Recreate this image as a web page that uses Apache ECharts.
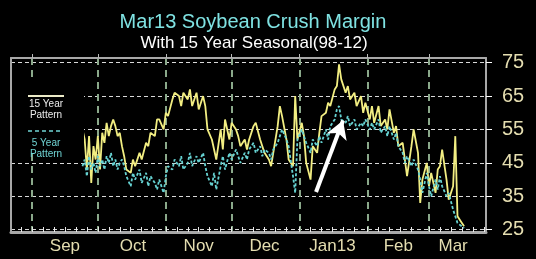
<!DOCTYPE html>
<html>
<head>
<meta charset="utf-8">
<script src="https://cdn.jsdelivr.net/npm/echarts@6/dist/echarts.min.js"></script>
<style>
html,body{margin:0;padding:0;background:#000;}
#chart{width:536px;height:259px;}
</style>
</head>
<body>
<div id="chart"></div>
<script>
// x values: days since 2012-09-01
const days = [23,24,25,26,27,28,29,30,31,32,33,34,35,36,37,38,39,40,41,42,
  43,45,46,47,49,50,52,53,54,56,57,58,60,61,62,64,65,67,68,69,71,72,73,75,76,78,79,80,82,83,84,86,87,88,90,
  91,93,94,95,97,98,99,101,102,104,105,106,108,109,110,112,113,114,116,117,119,120,121,123,124,125,127,128,130,131,132,134,135,136,138,139,
  140,141,143,144,145,147,148,150,151,152,154,155,156,158,159,161,162,163,165,166,167,169,170,171,173,174,176,177,178,180,181,182,184,185,186,187,189,190,192,193,194,196,197];
const pattern15 = [55,52,43,53,39,50,46,53,43,54,51,57,53,56,58,56,53,54,50,47,
  43,42,46,44,48,46,51,50,54,53,58,58,55,60,59,64,66,65,62,66,64,67,62,66,61,65,62,55,52,49,46,55,49,58,52,
  57,55,53,50,52,49,52,56,57,52,50,48,46,44,48,56,62,59,52,46,44,65,52,57,53,45,40,50,48,54,59,60,63,62,67,68,
  74.5,70,66,68,64,66,62,65,60,63,58,62,57,62,56,58,55,61,54,56,50,51,46,41,50,55,48,33,40,45,38,42,36,43,44,49,40,34,38,53,29,27,26];
const pattern5 = [44,46,41,47,43,45,42,47,44,46,43,47,45,48,44,46,43,45,46,44,
  41,38,42,40,43,39,42,38,41,39,37,40,36,41,44,43,46,44,47,43,45,48,44,47,45,48,44,41,38,42,37,44,47,43,48,
  46,49,47,45,48,46,49,51,48,50,47,49,48,46,49,51,53,55,52,50,41,36,52,55,53,51,48,52,50,53,51,55,52,56,58,61,
  62,58,57,59,56,58,55,57,56,58,55,57,55,58,54,56,53,56,52,54,50,48,45,47,44,46,43,40,36,42,38,35,40,37,41,38,35,36,31,29,27,26,25.5];
const monthStarts = [0,30,61,91,122,153,181];
const monthLabelDays = [15,46,76,106,137,167,192];
const monthLabels = ['Sep','Oct','Nov','Dec','Jan13','Feb','Mar'];
const smallTicks = [-5,0,5,10,15,20,25,30,35,40,45,50,55,61,66,71,76,81,86,91,96,101,106,111,116,122,127,132,137,142,147,153,158,163,168,173,181,186,191,196,201,206];
const yTicks = [25,35,45,55,65,75];
const arrowFrom = [129.5,36.3];
const arrowTo = [141.8,57.7];

const FONT = '"Liberation Sans", Arial, sans-serif';
const xMin = -9.6, xMax = 207;
const yMin = 24.3, yMax = 76.4;

const chart = echarts.init(document.getElementById('chart'), null, {renderer:'canvas'});
chart.setOption({
  backgroundColor:'#000',
  animation:false,
  title:[
    {text:'Mar13 Soybean Crush Margin', left:248, top:7, textAlign:'center',
     textStyle:{color:'#7fe2e2', fontSize:20, fontWeight:'normal', fontFamily:FONT}},
    {text:'With 15 Year Seasonal(98-12)', left:249, top:30, textAlign:'center',
     textStyle:{color:'#ffffff', fontSize:17, fontWeight:'normal', fontFamily:FONT}}
  ],
  grid:{left:11, right:50, top:58, bottom:27},
  xAxis:[
    {type:'value', min:xMin, max:xMax, position:'bottom',
     axisLine:{show:false, onZero:false}, axisTick:{show:false, customValues:monthStarts},
     axisLabel:{customValues:monthLabelDays, color:'#e4ddb0', fontSize:17, fontFamily:FONT, margin:6,
       formatter:v=>monthLabels[monthLabelDays.indexOf(v)]},
     splitLine:{show:true, lineStyle:{color:'#8aa88a', width:2, type:[7,5]}}},
    {type:'value', min:xMin, max:xMax, position:'bottom',
     axisLine:{show:true, onZero:false, lineStyle:{color:'#a8a8a8', width:3}},
     axisTick:{show:true, inside:true, length:5, customValues:smallTicks, lineStyle:{color:'#e8e8e8', width:1}},
     axisLabel:{show:false}, splitLine:{show:false}},
    {type:'value', min:xMin, max:xMax, position:'top',
     axisLine:{show:true, onZero:false, lineStyle:{color:'#a8a8a8', width:2}},
     axisTick:{show:true, length:4, customValues:monthStarts, lineStyle:{color:'#bbbbbb', width:1}},
     axisLabel:{show:false}, splitLine:{show:false}}
  ],
  yAxis:[
    {type:'value', min:yMin, max:yMax, position:'right',
     axisLine:{show:true, onZero:false, lineStyle:{color:'#a8a8a8', width:2}},
     axisTick:{show:true, length:6, customValues:yTicks, lineStyle:{color:'#ffffff', width:1}},
     axisLabel:{customValues:yTicks, color:'#e4ddb0', fontSize:20, fontFamily:FONT, margin:16},
     splitLine:{show:true, lineStyle:{color:'#d8d8d8', width:1, type:[4,3]}}},
    {type:'value', min:yMin, max:yMax, position:'left',
     axisLine:{show:true, onZero:false, lineStyle:{color:'#a8a8a8', width:2}},
     axisTick:{show:false}, axisLabel:{show:false}, splitLine:{show:false}}
  ],
  series:[
    {name:'15 Year Pattern', type:'line', xAxisIndex:0, yAxisIndex:0,
     data:days.map((d,i)=>[d,pattern15[i]]), showSymbol:false, symbol:'none',
     lineStyle:{color:'#f2ee82', width:1.8}, z:3},
    {name:'5 Year Pattern', type:'line', xAxisIndex:0, yAxisIndex:0,
     data:days.map((d,i)=>[d,pattern5[i]]), showSymbol:false, symbol:'none',
     lineStyle:{color:'#66d2d2', width:1.8, type:[3,2]}, z:4,
     markLine:{silent:true, symbol:['none','arrow'], symbolSize:[16,18],
       label:{show:false},
       lineStyle:{color:'#ffffff', width:4, type:'solid'},
       data:[[{coord:arrowFrom},{coord:arrowTo}]]}}
  ],
  graphic:[
    {type:'rect', shape:{x:12, y:80, width:72, height:70}, style:{fill:'#000'}, z:10},
    {type:'line', shape:{x1:28, y1:96, x2:64, y2:96}, style:{stroke:'#ecebc8', lineWidth:2}, z:11},
    {type:'text', x:46, y:104, style:{text:'15 Year', fill:'#ececec', fontSize:10, fontFamily:FONT, textAlign:'center', textVerticalAlign:'middle'}, z:11},
    {type:'text', x:46, y:115, style:{text:'Pattern', fill:'#ececec', fontSize:10, fontFamily:FONT, textAlign:'center', textVerticalAlign:'middle'}, z:11},
    {type:'line', shape:{x1:28, y1:131, x2:62, y2:131}, style:{stroke:'#70d4d4', lineWidth:1.5, lineDash:[4,3]}, z:11},
    {type:'text', x:46, y:143, style:{text:'5 Year', fill:'#70d4d4', fontSize:10, fontFamily:FONT, textAlign:'center', textVerticalAlign:'middle'}, z:11},
    {type:'text', x:46, y:154, style:{text:'Pattern', fill:'#70d4d4', fontSize:10, fontFamily:FONT, textAlign:'center', textVerticalAlign:'middle'}, z:11}
  ]
});
</script>
</body>
</html>
